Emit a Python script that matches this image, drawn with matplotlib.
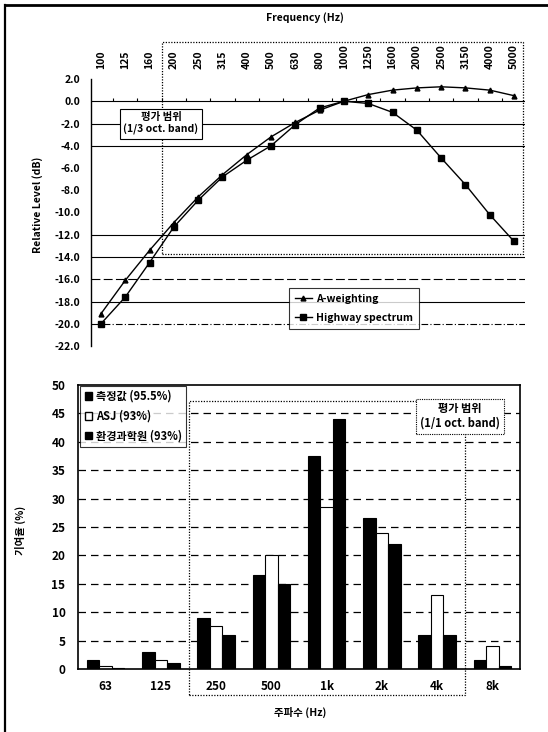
import matplotlib
matplotlib.use("Agg")
import matplotlib.pyplot as plt
import numpy as np
from matplotlib.lines import Line2D
from matplotlib.patches import Patch

plt.rcParams['font.family'] = ['Noto Sans CJK KR', 'DejaVu Sans']
plt.rcParams['font.weight'] = 'bold'

# ---------------- data ----------------
freq_labels = ['100', '125', '160', '200', '250', '315', '400', '500', '630', '800',
               '1000', '1250', '1600', '2000', '2500', '3150', '4000', '5000']
a_weighting = [-19.1, -16.1, -13.4, -10.9, -8.6, -6.6, -4.8, -3.2, -1.9, -0.8,
               0.0, 0.6, 1.0, 1.2, 1.3, 1.2, 1.0, 0.5]
highway = [-20.0, -17.6, -14.5, -11.3, -8.9, -6.8, -5.3, -4.0, -2.1, -0.6,
           0.0, -0.2, -1.0, -2.6, -5.1, -7.5, -10.2, -12.6]
top_grid = [0, -2, -4, -12, -14, -16, -18, -20]
top_yticks = [2, 0, -2, -4, -6, -8, -10, -12, -14, -16, -18, -20, -22]

oct_labels = ['63', '125', '250', '500', '1k', '2k', '4k', '8k']
measured = [1.5, 3.0, 9.0, 16.5, 37.5, 26.5, 6.0, 1.5]
asj = [0.5, 1.5, 7.5, 20.0, 28.5, 24.0, 13.0, 4.0]
nier = [0.1, 1.0, 6.0, 15.0, 44.0, 22.0, 6.0, 0.5]
bottom_yticks = list(range(0, 55, 5))

W, H = 548, 732
fig = plt.figure(figsize=(W / 100, H / 100), dpi=100)

def fx(px):
    return px / W

def fy(py):
    return 1 - py / H

# figure border (left and top)
fig.add_artist(Line2D([fx(5), fx(5)], [fy(5), fy(732)], color='black', lw=1.6, transform=fig.transFigure))
fig.add_artist(Line2D([fx(5), fx(548)], [fy(5), fy(5)], color='black', lw=2.0, transform=fig.transFigure))

fs = 7.5

# ---------------- top chart ----------------
ax1 = fig.add_axes([fx(91), fy(346), fx(525) - fx(91), fy(79) - fy(346)])
x = np.arange(len(freq_labels))
ax1.set_xlim(-0.41, 17.45)
ax1.set_ylim(-22, 2)
for s in ['top', 'right', 'bottom']:
    ax1.spines[s].set_visible(False)
ax1.spines['left'].set_linewidth(1.0)
grid_styles = {0: '-', -2: '-', -4: '-', -12: '-', -14: '-', -16: (0, (8, 3)), -18: '-', -20: (0, (6, 2, 1, 2))}
for g in top_grid:
    ax1.axhline(g, color='black', lw=0.8, ls=grid_styles.get(g, '-'), zorder=1)
# small category ticks on the 0 dB line
ax1.vlines(x[:-1] + 0.5, 0, 0.25, color='black', lw=0.8, zorder=1)

ax1.plot(x, a_weighting, color='black', lw=1.0, marker='^', ms=3.5, label='A-weighting', zorder=3)
ax1.plot(x, highway, color='black', lw=1.0, marker='s', ms=5, label='Highway spectrum', zorder=3)

ax1.xaxis.tick_top()
ax1.set_xticks(x)
ax1.set_xticklabels(freq_labels, rotation=90, fontsize=fs, fontweight='bold')
ax1.tick_params(axis='x', length=0, pad=7)
ax1.set_yticks(top_yticks)
ax1.set_yticklabels(['%.1f' % v for v in top_yticks], fontsize=fs, fontweight='bold')
ax1.tick_params(axis='y', length=0, pad=8)

fig.text(fx(305), fy(18), 'Frequency (Hz)', ha='center', va='center', fontsize=fs, fontweight='bold')
fig.text(fx(38), fy(205), 'Relative Level (dB)', ha='center', va='center', rotation=90,
         fontsize=fs, fontweight='bold')

# dotted evaluation range box
rx0, rx1, ry0, ry1 = 2.5, 17.37, -13.7, 5.36
ax1.plot([rx0, rx1, rx1, rx0, rx0], [ry0, ry0, ry1, ry1, ry0], color='black', lw=0.9,
         ls=(0, (1, 1.2)), clip_on=False, zorder=2)

ax1.text(2.47, -2.0, '평가 범위\n(1/3 oct. band)', ha='center', va='center', fontsize=fs,
         fontweight='bold', linespacing=1.2,
         bbox=dict(boxstyle='square,pad=0.35', facecolor='white', edgecolor='black', lw=0.8), zorder=4)

leg1 = ax1.legend(loc='lower left', bbox_to_anchor=(0.445, 0.045), fontsize=fs, frameon=True,
                  fancybox=False, edgecolor='black', handlelength=1.6, handletextpad=0.4,
                  borderpad=0.55, labelspacing=0.9,
                  prop={'weight': 'bold', 'size': fs})
leg1.get_frame().set_linewidth(0.8)
leg1.set_zorder(5)

# ---------------- bottom chart ----------------
ax2 = fig.add_axes([fx(78), fy(669), fx(520) - fx(78), fy(385) - fy(669)])
xb = np.arange(len(oct_labels))
bw = 0.226
for g in bottom_yticks[1:-1]:
    ax2.axhline(g, color='black', lw=0.9, ls=(0, (6, 4)), zorder=0)
ax2.bar(xb - bw, measured, bw, color='black', edgecolor='black', lw=0.8, label='측정값 (95.5%)', zorder=2)
ax2.bar(xb, asj, bw, color='white', edgecolor='black', lw=0.8, label='ASJ (93%)', zorder=2)
ax2.bar(xb + bw, nier, bw, color='black', edgecolor='black', lw=0.8, label='환경과학원 (93%)', zorder=2)
ax2.set_xlim(-0.5, 7.5)
ax2.set_ylim(0, 50)
for s in ax2.spines.values():
    s.set_linewidth(1.2)
ax2.set_xticks(xb)
ax2.set_xticklabels(oct_labels, fontsize=8.5, fontweight='bold')
ax2.tick_params(axis='x', length=0, pad=8)
ax2.set_yticks(bottom_yticks)
ax2.set_yticklabels([str(v) for v in bottom_yticks], fontsize=8.5, fontweight='bold')
ax2.tick_params(axis='y', length=0, pad=9)

fig.text(fx(20), fy(530), '기여율 (%)', ha='center', va='center', rotation=90, fontsize=fs,
         fontweight='bold')
fig.text(fx(300), fy(712), '주파수 (Hz)', ha='center', va='center', fontsize=fs, fontweight='bold')

# dotted evaluation range box
bx0, bx1, by0, by1 = 1.5, 6.5, -4.6, 47.2
ax2.plot([bx0, bx1, bx1, bx0, bx0], [by0, by0, by1, by1, by0], color='black', lw=0.9,
         ls=(0, (1, 1.2)), clip_on=False, zorder=3)

ax2.text(6.41, 44.5, '평가 범위\n(1/1 oct. band)', ha='center', va='center', fontsize=8,
         fontweight='bold', linespacing=1.15,
         bbox=dict(boxstyle='square,pad=0.35', facecolor='white', edgecolor='black', lw=0.8,
                   ls=(0, (1, 1))), zorder=4)

handles = [Patch(facecolor='black', edgecolor='black'),
           Patch(facecolor='white', edgecolor='black'),
           Patch(facecolor='black', edgecolor='black')]
labels = ['측정값 (95.5%)', 'ASJ (93%)', '환경과학원 (93%)']
leg2 = ax2.legend(handles, labels, loc='upper left', bbox_to_anchor=(0.005, 0.998), fancybox=False,
                  edgecolor='black', handlelength=0.7, handleheight=0.7, handletextpad=0.3,
                  borderpad=0.4, labelspacing=0.6, borderaxespad=0,
                  prop={'weight': 'bold', 'size': 8})
leg2.get_frame().set_linewidth(0.8)
leg2.set_zorder(5)

fig.savefig('out.png', dpi=100)
